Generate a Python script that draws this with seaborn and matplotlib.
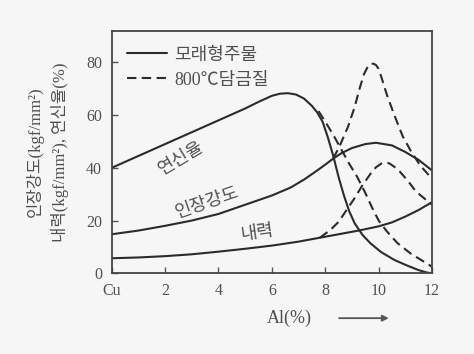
import matplotlib
matplotlib.use("Agg")
import matplotlib.pyplot as plt
from matplotlib.lines import Line2D
import seaborn as sns
import pandas as pd

# ---- data ----
# sand casting (solid)
elong_sand_x = [0, 1, 2, 3, 4, 5, 5.5, 6.0, 6.3, 6.6, 6.9, 7.2, 7.5, 7.7, 7.9, 8.1, 8.3, 8.5, 8.7, 8.9, 9.1, 9.4, 9.7, 10.1, 10.6, 11.1, 11.5, 11.8, 12]
elong_sand_y = [40, 44.5, 49, 53.5, 58, 62.5, 65, 67.3, 68.1, 68.3, 67.8, 66.3, 63.5, 61, 57.5, 51.5, 44.5, 36.5, 29.5, 23.5, 19, 14.5, 11.3, 8, 5, 2.8, 1.2, 0.3, 0]

tens_sand_x = [0, 1, 2, 3, 4, 5, 6, 6.7, 7.2, 7.7, 8.0, 8.3, 8.6, 9.0, 9.5, 9.9, 10.5, 11.0, 11.5, 12]
tens_sand_y = [14.8, 16.2, 18, 20, 22.5, 26, 29.5, 32.5, 35.5, 39, 41.2, 43.5, 45.5, 47.5, 49, 49.5, 48.5, 46, 43, 39]

yield_sand_x = [0, 1, 2, 3, 4, 5, 6, 7, 7.8, 8.5, 9.3, 10, 10.5, 11, 11.5, 12]
yield_sand_y = [5.7, 6, 6.5, 7.2, 8.2, 9.3, 10.5, 12, 13.5, 14.8, 16.3, 17.8, 19.3, 21.5, 24, 27]

# 800 C quench (dashed)
elong_q_x = [7.75, 8.0, 8.3, 8.6, 8.9, 9.2, 9.5, 9.75, 10.0, 10.3, 10.7, 11.2, 11.6, 12]
elong_q_y = [61.5, 57.5, 52.5, 47, 41.5, 36.5, 30.5, 25, 20, 16, 11.5, 7.5, 5, 2.5]

tens_q_x = [8.3, 8.55, 8.85, 9.1, 9.3, 9.45, 9.6, 9.7, 9.8, 9.9, 10.0, 10.1, 10.3, 10.55, 10.9, 11.2, 11.55, 11.9, 12]
tens_q_y = [43.5, 48.5, 55.5, 63, 70.5, 75.5, 78.5, 79.4, 79.5, 79, 77.5, 74.5, 68, 61, 52, 46.5, 41, 37, 36]

yield_q_x = [7.8, 8.2, 8.5, 8.8, 9.1, 9.4, 9.7, 9.9, 10.1, 10.25, 10.4, 10.6, 10.8, 11.1, 11.4, 11.7, 12]
yield_q_y = [13.5, 16.5, 19.5, 24, 28.5, 33.5, 37.8, 40.2, 41.6, 42, 41.7, 40.3, 38.5, 35, 31, 28.5, 26]

x_ticks = [0, 2, 4, 6, 8, 10, 12]
x_tick_labels = ["Cu", "2", "4", "6", "8", "10", "12"]
y_ticks = [0, 20, 40, 60, 80]
legend_labels = ["모래형주물", "800℃담금질"]
curve_labels = ["연신율", "인장강도", "내력"]
y_label = "인장강도(kgf/mm²)\n내력(kgf/mm²), 연신율(%)"
x_label = "Al(%)"

# ---- styling ----
BG = "#f6f6f6"
LINE = "#2b2b2b"
TXT = "#505050"
DASH = (0, (4.5, 2.6))

sns.set_theme(style="ticks")
plt.rcParams["font.family"] = ["Liberation Serif", "Noto Sans CJK KR", "DejaVu Sans"]

fig = plt.figure(figsize=(4.74, 3.54), dpi=100, facecolor=BG)
ax = fig.add_axes([0.2357, 0.228, 0.6757, 0.6853])
ax.set_facecolor(BG)

def draw(xs, ys, dashed):
    df = pd.DataFrame({"x": xs, "y": ys})
    ls = DASH if dashed else "-"
    sns.lineplot(data=df, x="x", y="y", ax=ax, color=LINE, lw=1.5,
                 linestyle=ls, estimator=None, sort=True, legend=False)

draw(elong_sand_x, elong_sand_y, False)
draw(tens_sand_x, tens_sand_y, False)
draw(yield_sand_x, yield_sand_y, False)
draw(elong_q_x, elong_q_y, True)
draw(tens_q_x, tens_q_y, True)
draw(yield_q_x, yield_q_y, True)

ax.set_xlim(0, 12)
ax.set_ylim(0, 92)
ax.set_xticks(x_ticks)
ax.set_xticklabels(x_tick_labels)
ax.set_yticks(y_ticks)
ax.tick_params(direction="in", length=4, width=1, color="#555555",
               labelsize=11.5, labelcolor=TXT, pad=7)
for s in ax.spines.values():
    s.set_visible(True)
    s.set_color("#444444")
    s.set_linewidth(1.3)

ax.set_xlabel("")
ax.set_ylabel(y_label, fontsize=12, color=TXT, labelpad=12, linespacing=1.5)

# x label with arrow
ax.text(0.555, -0.185, x_label, transform=ax.transAxes, ha="center", va="center",
        fontsize=13, color=TXT)
ax.annotate("", xy=(0.865, -0.185), xytext=(0.71, -0.185), xycoords="axes fraction",
            arrowprops=dict(arrowstyle="-|>", color="#555555", lw=1.3,
                            mutation_scale=9, shrinkA=0, shrinkB=0))

# curve labels
ax.text(2.6, 43.5, curve_labels[0], rotation=31, ha="center", va="center",
        fontsize=13, color=TXT)
ax.text(3.6, 26.8, curve_labels[1], rotation=19, ha="center", va="center",
        fontsize=13, color=TXT)
ax.text(5.45, 15.2, curve_labels[2], rotation=8, ha="center", va="center",
        fontsize=13, color=TXT)

handles = [Line2D([0], [0], color=LINE, lw=1.5, ls="-"),
           Line2D([0], [0], color=LINE, lw=1.5, ls=DASH)]
ax.legend(handles, legend_labels, loc="upper left", bbox_to_anchor=(0.015, 0.98),
          frameon=False, fontsize=13, handlelength=2.2, handletextpad=0.4,
          labelspacing=0.45, labelcolor=TXT, borderaxespad=0.2)

fig.savefig("out.png", dpi=100, facecolor=BG)
